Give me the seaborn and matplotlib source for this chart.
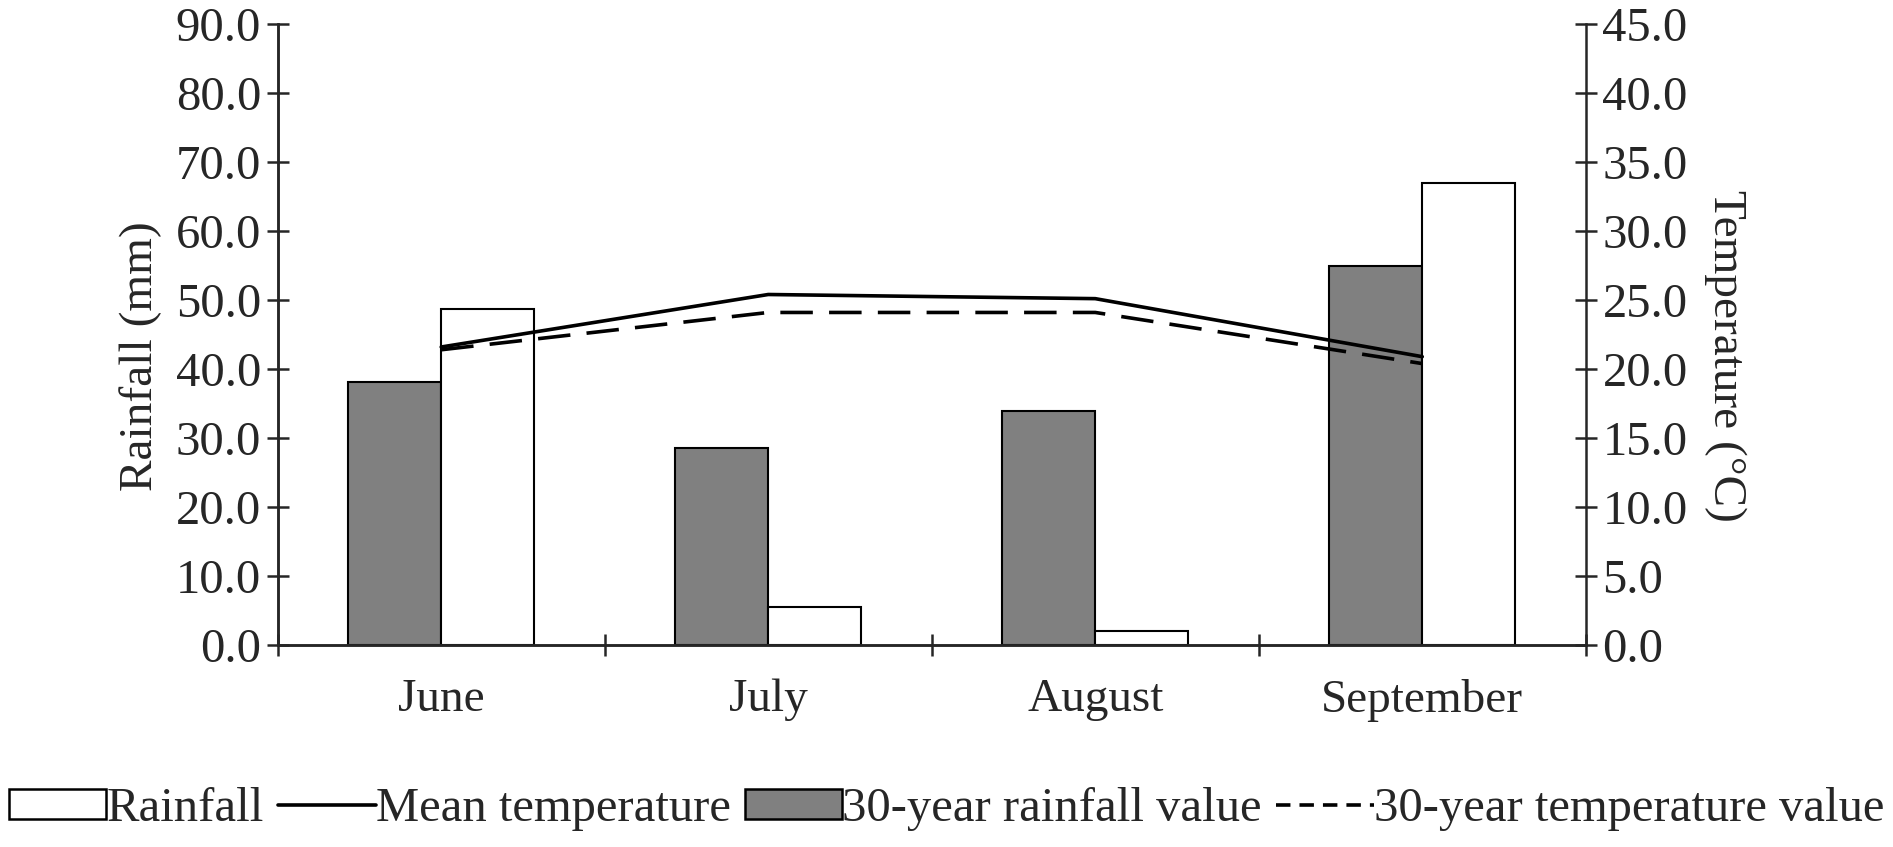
import numpy as np
import pandas as pd
import seaborn as sns
import matplotlib.pyplot as plt
from matplotlib.patches import Patch
from matplotlib.lines import Line2D

months = ['June', 'July', 'August', 'September']
rainfall = [48.7, 5.6, 2.1, 67.0]
rainfall_30yr = [38.2, 28.6, 33.9, 54.9]
mean_temp = [21.6, 25.4, 25.1, 20.9]
temp_30yr = [21.4, 24.1, 24.1, 20.4]

sns.set_style('ticks')
plt.rcParams['font.family'] = ['Liberation Serif', 'DejaVu Serif']

df = pd.DataFrame({
    'month': months * 2,
    'rain': rainfall_30yr + rainfall,
    'series': ['30-year rainfall value'] * 4 + ['Rainfall'] * 4,
})

fig = plt.figure(figsize=(18.93, 8.47), dpi=100)
ax = fig.add_axes([0.1467, 0.238, 0.691, 0.734])

sns.barplot(data=df, x='month', y='rain', hue='series',
            hue_order=['30-year rainfall value', 'Rainfall'],
            palette=['#808080', 'white'], edgecolor='black', linewidth=1.5,
            width=0.57, ax=ax, legend=False)

ax2 = ax.twinx()
xpos = np.arange(len(months))
sns.lineplot(x=xpos, y=mean_temp, ax=ax2, color='black', linewidth=2.6)
sns.lineplot(x=xpos, y=temp_30yr, ax=ax2, color='black', linewidth=2.6)
ax2.lines[-1].set_dashes((9, 4.5))

ax.set_xlim(-0.5, 3.5)
ax.set_ylim(0, 90)
ax2.set_ylim(0, 45)
ax.set_yticks(np.arange(0, 91, 10))
ax.set_yticklabels([f'{v:.1f}' for v in np.arange(0, 91, 10)])
ax2.set_yticks(np.arange(0, 46, 5))
ax2.set_yticklabels([f'{v:.1f}' for v in np.arange(0, 46, 5)])

fs = 34
ax.set_xticks(xpos)
ax.set_xticklabels(months)
ax.set_xticks(np.arange(-0.5, 4, 1), minor=True)
ax.tick_params(axis='x', which='major', length=0, pad=24, labelsize=fs)
ax.tick_params(axis='x', which='minor', direction='inout', length=16, width=1.8)
ax.tick_params(axis='y', direction='inout', length=16, width=1.8, labelsize=35, pad=4)
ax2.tick_params(axis='y', direction='inout', length=16, width=1.8, labelsize=35, pad=4)

ax.set_xlabel('')
ax.set_ylabel('Rainfall (mm)', fontsize=fs, labelpad=10)
ax2.set_ylabel('Temperature (°C)', fontsize=fs, rotation=270, va='bottom',
               labelpad=12)
ax.yaxis.label.set_y(0.465)
ax2.yaxis.label.set_y(0.465)

for a in (ax, ax2):
    a.spines['top'].set_visible(False)
    for s in ('left', 'right', 'bottom'):
        a.spines[s].set_linewidth(1.8)
ax.spines['right'].set_visible(False)

handles = [
    Patch(facecolor='white', edgecolor='black', linewidth=1.8),
    Line2D([], [], color='black', linewidth=2.6),
    Patch(facecolor='#808080', edgecolor='black', linewidth=1.8),
    Line2D([], [], color='black', linewidth=2.6, dashes=(4, 2.5)),
]
labels = ['Rainfall', 'Mean temperature', '30-year rainfall value',
          '30-year temperature value']
fig.legend(handles, labels, loc='center', bbox_to_anchor=(0.5, 0.045), ncol=4,
           frameon=False, fontsize=35, handlelength=2.0, handleheight=0.57,
           handletextpad=0.0, columnspacing=0.3, borderpad=0.1)

fig.savefig('out.png', dpi=100)
